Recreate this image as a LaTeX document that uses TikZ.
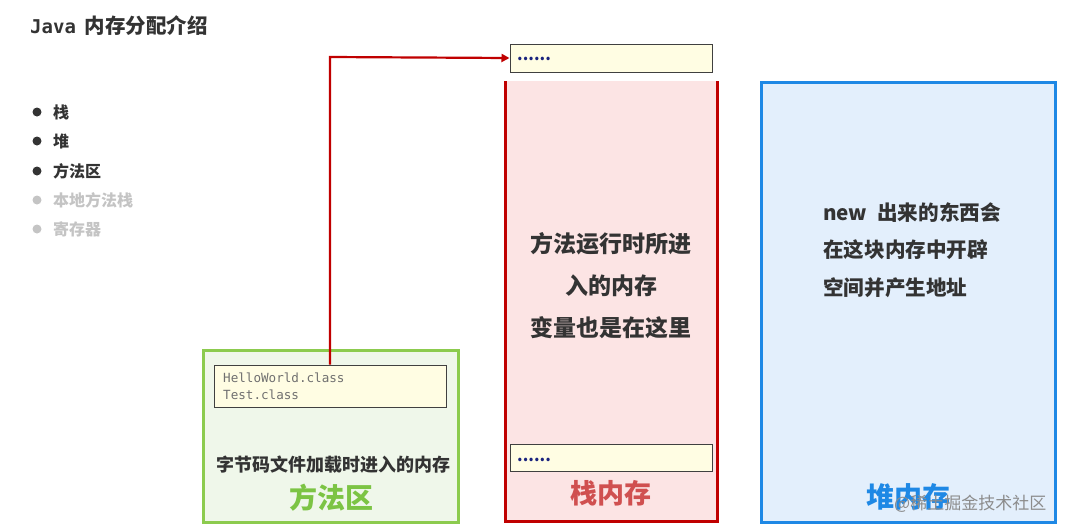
\documentclass[tikz,border=0pt]{standalone}
\usepackage{fontspec}
\setmainfont{Noto Sans CJK SC}
\newfontfamily\codefont{DejaVu Sans Mono}
\usetikzlibrary{arrows.meta}
\definecolor{txtdark}{HTML}{333333}
\definecolor{txtgray}{HTML}{C4C4C4}
\definecolor{stackred}{HTML}{C00000}
\definecolor{stackfill}{HTML}{FCE4E4}
\definecolor{stacklabel}{HTML}{D05050}
\definecolor{greenline}{HTML}{8CCB4E}
\definecolor{greenfill}{HTML}{EFF7EA}
\definecolor{greenlabel}{HTML}{7CC444}
\definecolor{blueline}{HTML}{1E88E5}
\definecolor{bluefill}{HTML}{E3EFFC}
\definecolor{yellowfill}{HTML}{FFFDE3}
\definecolor{dotblue}{HTML}{1A237E}
\definecolor{codegray}{HTML}{707070}
\tikzset{
  bul/.style={circle,fill=#1,inner sep=0pt,minimum size=9pt},
  bultext/.style={anchor=west,font=\fontsize{16}{18}\selectfont\bfseries,text=#1,inner sep=0pt},
  slot/.style={draw=black!75,line width=1pt,fill=yellowfill,inner sep=0pt},
  body/.style={font=\fontsize{#1}{#1}\selectfont\bfseries,text=txtdark,inner sep=0pt},
  dots/.style={anchor=west,inner sep=0pt,text=dotblue,font=\fontsize{16}{16}\selectfont\bfseries},
}
\begin{document}
\begin{tikzpicture}[x=1pt,y=-1pt]
\useasboundingbox (0,0) rectangle (1072,531);
% title
\node[anchor=west,inner sep=0pt,text=txtdark] (title) at (30,26) {{\codefont\bfseries\fontsize{19}{20}\selectfont Java}\hspace{9pt}{\fontsize{20.5}{22}\selectfont\bfseries 内存分配介绍}};
% bullets
\node[bul=txtdark] (b1) at (37,112) {};
\node[bultext=txtdark] (t1) at (53,112) {栈};
\node[bul=txtdark] (b2) at (37,141) {};
\node[bultext=txtdark] (t2) at (53,141) {堆};
\node[bul=txtdark] (b3) at (37,171) {};
\node[bultext=txtdark] (t3) at (53,171) {方法区};
\node[bul=txtgray] (b4) at (37,200) {};
\node[bultext=txtgray] (t4) at (53,200) {本地方法栈};
\node[bul=txtgray] (b5) at (37,229) {};
\node[bultext=txtgray] (t5) at (53,229) {寄存器};
% method area
\draw[greenline,line width=3pt,fill=greenfill] (203,350) rectangle (458,522);
\node[slot,minimum width=232pt,minimum height=42pt] (cls) at (330,386) {};
\node[anchor=north west,inner sep=0pt,align=left,text=codegray,font=\codefont\fontsize{12.6}{16.5}\selectfont] (clstext) at (223,373) {HelloWorld.class\\Test.class};
\node[body=18] (mdesc) at (333,465) {字节码文件加载时进入的内存};
\node[body=28,text=greenlabel] (mlabel) at (331,498) {方法区};
% stack
\fill[stackfill] (505,81) rectangle (717,521);
\draw[stackred,line width=3pt] (505,81) -- (505,521) -- (717,521) -- (717,81);
\node[slot,minimum width=202pt,minimum height=28pt] (top) at (611,58) {};
\node[dots] (topdots) at (517,59) {......};
\node[body=23,align=center] (sdesc) at (611,286) {方法运行时所进\\[19pt]入的内存\\[19pt]变量也是在这里};
\node[slot,minimum width=202pt,minimum height=27pt] (bot) at (611,457.5) {};
\node[dots] (botdots) at (517,460) {......};
\node[body=27,text=stacklabel] (slabel) at (611,493) {栈内存};
% heap
\draw[blueline,line width=3pt,fill=bluefill] (761,82) rectangle (1055,522);
\node[body=20.6,align=left,anchor=west] (hdesc) at (823,250) {new\hspace{10pt}出来的东西会\\[17pt]在这块内存中开辟\\[17pt]空间并产生地址};
\node[body=28,text=blueline] (hlabel) at (908,497) {堆内存};
\node[anchor=west,inner sep=0pt,text=black!45,font=\fontsize{17}{17}\selectfont] (wm) at (894,504) {@稀土掘金技术社区};
% arrow
\coordinate (bend) at (330,57);
\draw[stackred,line width=2.2pt,-{Triangle[length=8pt,width=8pt]}] (cls.north -| bend) -- (bend) -- (top.west);
\end{tikzpicture}
\end{document}
